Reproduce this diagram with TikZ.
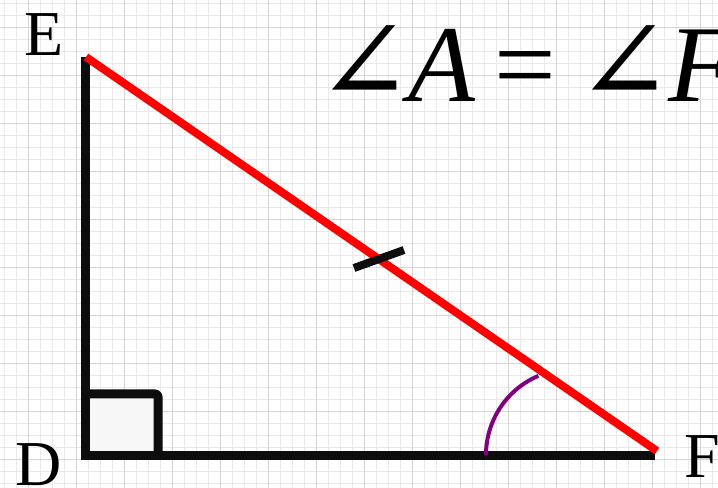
\documentclass[tikz,border=0pt]{standalone}
\usepackage{fontspec}
\setmainfont{Liberation Serif}
\newfontfamily\symfont[Scale=1.05]{DejaVu Serif}
\usepackage{xcolor}
\definecolor{gridminor}{RGB}{233,233,233}
\definecolor{gridmajor}{RGB}{212,212,212}
\definecolor{hypred}{RGB}{255,0,0}
\definecolor{arcpurple}{RGB}{128,0,128}
\usepackage{tikz}
\usetikzlibrary{calc}

\tikzset{
  side/.style={line width=6.75pt,black!95},
  hyp/.style={line width=6pt,hypred},
  tickmark/.style={line width=6pt,black!95},
  rightbox/.style={line width=6.75pt,black!95,rounded corners=2pt,line join=round},
  anglearc/.style={line width=3pt,arcpurple},
  vlabel/.style={inner sep=0pt,anchor=base west,font=\fontsize{48}{48}\selectfont}
}

\begin{document}
\begin{tikzpicture}[x=0.75pt,y=-0.75pt]
  \useasboundingbox (0,0) rectangle (718,488);
  % squared paper
  \fill[white] (0,0) rectangle (718,488);
  \foreach \gx in {4,16,...,718} \draw[gridminor,line width=0.6pt] (\gx,0) -- (\gx,488);
  \foreach \gy in {3,15,...,488} \draw[gridminor,line width=0.6pt] (0,\gy) -- (718,\gy);
  \foreach \gx in {28,76,...,718} \draw[gridmajor,line width=0.7pt] (\gx,0) -- (\gx,488);
  \foreach \gy in {27,75,...,488} \draw[gridmajor,line width=0.7pt] (0,\gy) -- (718,\gy);

  % vertices
  \coordinate (D) at (85,455);
  \coordinate (E) at (85,57);
  \coordinate (F) at (655,455);
  \coordinate (Ehyp) at (86,57);
  \coordinate (Fhyp) at (657,451);

  % right angle mark
  \fill[gray!6] (85,394) rectangle (158,455);
  \draw[rightbox] (85,394) -- (158,394) -- (158,455);

  % legs
  \draw[side,line join=miter] (E) -- (D) -- (F);

  % hypotenuse with tick
  \draw[hyp] (Ehyp) -- (Fhyp);
  \coordinate (tickA) at (354,268);
  \coordinate (tickB) at (404,250);
  \draw[tickmark] (tickA) -- (tickB);

  % angle at F
  \draw[anglearc] (486,455) arc[start angle=180,end angle=247,radius=86];

  % labels
  \node[vlabel] (labE) at (24,56) {E};
  \node[vlabel] (labD) at (15,485) {D};
  \node[vlabel] (labF) at (684,477) {F};
  \node[inner sep=0pt,anchor=base west,font=\fontsize{82}{82}\selectfont] (eqn) at (316,102)
    {{\symfont ∠}\hspace{-0.04em}\textit{A}\hspace{0.18em}=\hspace{0.18em}{\symfont ∠}\hspace{-0.04em}\textit{F}};
\end{tikzpicture}
\end{document}
